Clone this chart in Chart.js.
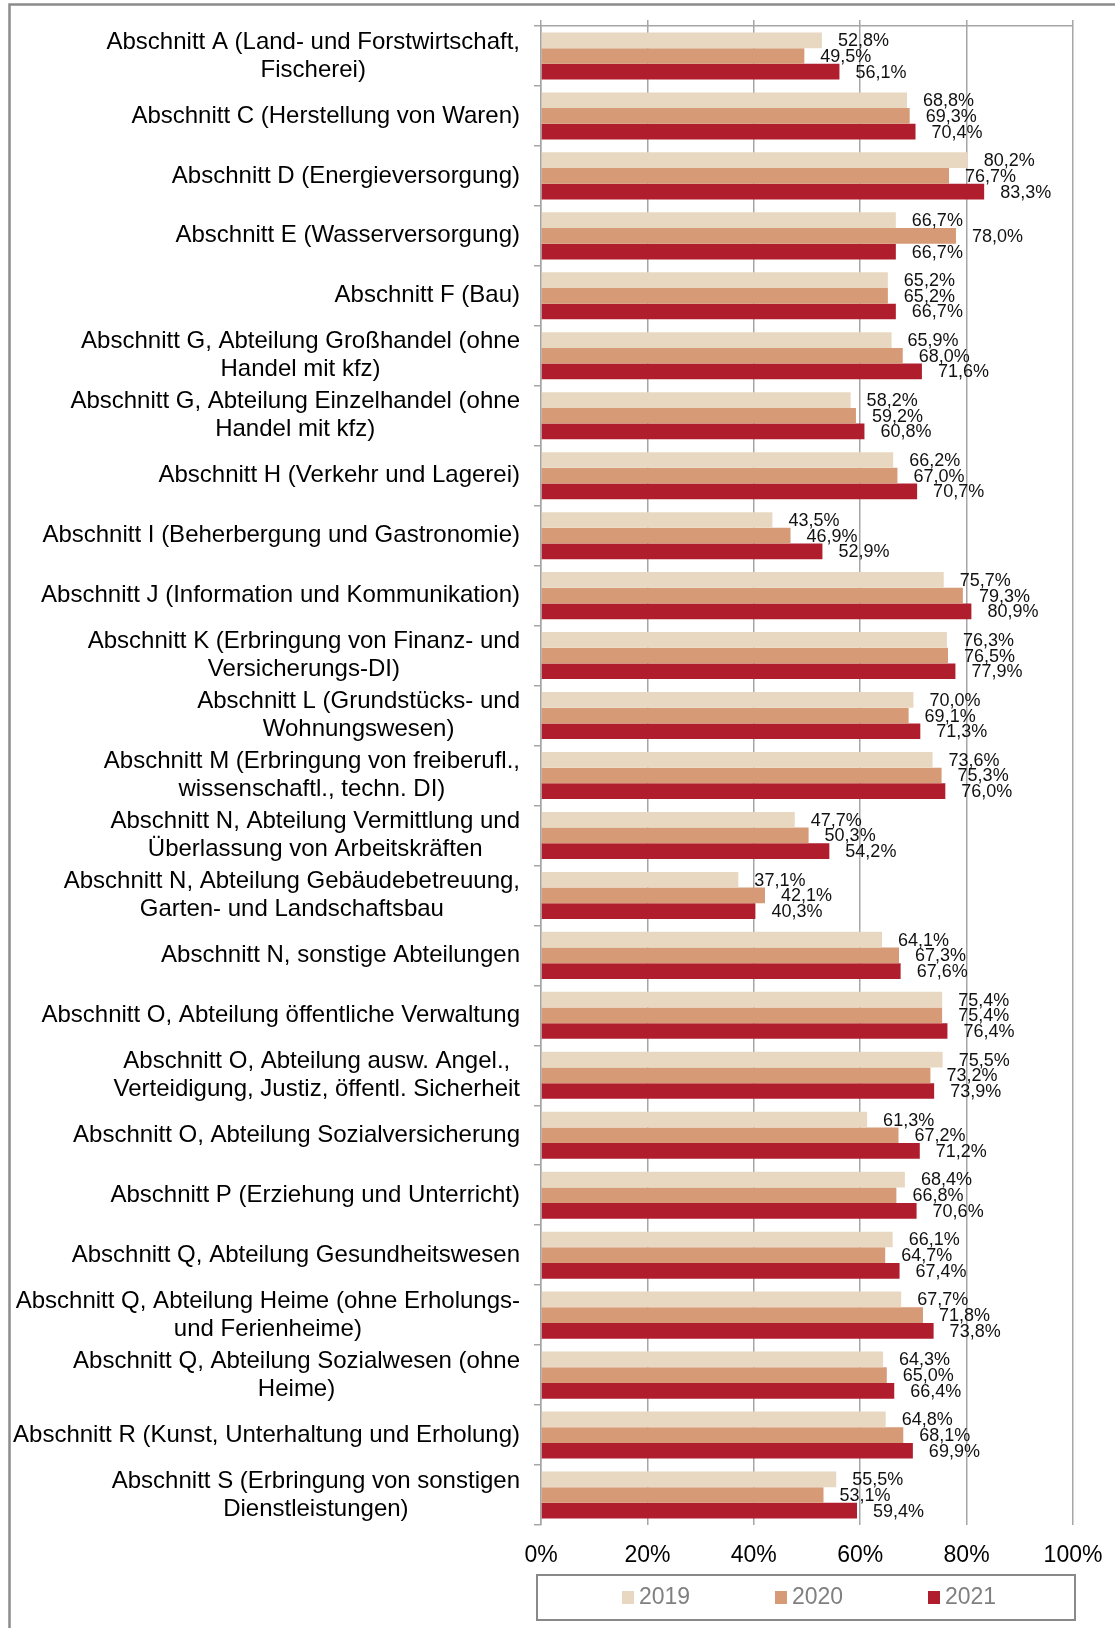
<!DOCTYPE html>
<html lang="de">
<head>
<meta charset="utf-8">
<title>Anteil nach Wirtschaftsabschnitten 2019–2021</title>
<script src="https://cdn.jsdelivr.net/npm/chart.js@4.4.1/dist/chart.umd.min.js"></script>
<style>
    html, body { margin: 0; padding: 0; background: #fff; }
    #wrap { width: 1115px; height: 1628px; }
</style>
</head>
<body>
<div id="wrap"><canvas id="chart" width="1115" height="1628"></canvas></div>
<script>
// Categories (multi-line labels as arrays)
const categories = [
    ['Abschnitt A (Land- und Forstwirtschaft,', 'Fischerei)'],
    'Abschnitt C (Herstellung von Waren)',
    'Abschnitt D (Energieversorgung)',
    'Abschnitt E (Wasserversorgung)',
    'Abschnitt F (Bau)',
    ['Abschnitt G, Abteilung Großhandel (ohne', 'Handel mit kfz)'],
    ['Abschnitt G, Abteilung Einzelhandel (ohne', 'Handel mit kfz)'],
    'Abschnitt H (Verkehr und Lagerei)',
    'Abschnitt I (Beherbergung und Gastronomie)',
    'Abschnitt J (Information und Kommunikation)',
    ['Abschnitt K (Erbringung von Finanz- und', 'Versicherungs-DI)'],
    ['Abschnitt L (Grundstücks- und', 'Wohnungswesen)'],
    ['Abschnitt M (Erbringung von freiberufl.,', 'wissenschaftl., techn. DI)'],
    ['Abschnitt N, Abteilung Vermittlung und', 'Überlassung von Arbeitskräften'],
    ['Abschnitt N, Abteilung Gebäudebetreuung,', 'Garten- und Landschaftsbau'],
    'Abschnitt N, sonstige Abteilungen',
    'Abschnitt O, Abteilung öffentliche Verwaltung',
    ['Abschnitt O, Abteilung ausw. Angel.,', 'Verteidigung, Justiz, öffentl. Sicherheit'],
    'Abschnitt O, Abteilung Sozialversicherung',
    'Abschnitt P (Erziehung und Unterricht)',
    'Abschnitt Q, Abteilung Gesundheitswesen',
    ['Abschnitt Q, Abteilung Heime (ohne Erholungs-', 'und Ferienheime)'],
    ['Abschnitt Q, Abteilung Sozialwesen (ohne', 'Heime)'],
    'Abschnitt R (Kunst, Unterhaltung und Erholung)',
    ['Abschnitt S (Erbringung von sonstigen', 'Dienstleistungen)']
];

const values2019 = [52.8, 68.8, 80.2, 66.7, 65.2, 65.9, 58.2, 66.2, 43.5, 75.7, 76.3, 70.0, 73.6,
                    47.7, 37.1, 64.1, 75.4, 75.5, 61.3, 68.4, 66.1, 67.7, 64.3, 64.8, 55.5];
const values2020 = [49.5, 69.3, 76.7, 78.0, 65.2, 68.0, 59.2, 67.0, 46.9, 79.3, 76.5, 69.1, 75.3,
                    50.3, 42.1, 67.3, 75.4, 73.2, 67.2, 66.8, 64.7, 71.8, 65.0, 68.1, 53.1];
const values2021 = [56.1, 70.4, 83.3, 66.7, 66.7, 71.6, 60.8, 70.7, 52.9, 80.9, 77.9, 71.3, 76.0,
                    54.2, 40.3, 67.6, 76.4, 73.9, 71.2, 70.6, 67.4, 73.8, 66.4, 69.9, 59.4];

const seriesNames = ['2019', '2020', '2021'];
const xTicks = [0, 20, 40, 60, 80, 100];

const FONT = '"Liberation Sans", Arial, sans-serif';
const GRID = '#a6a6a6';
const COLORS = ['#e8d8c1', '#d69a77', '#b01e2e'];

const fmt = v => v.toFixed(1).replace('.', ',') + '%';

// no automatic label overhang, the layout padding decides the plot edges
const noOverhang = s => { s.paddingLeft = 0; s.paddingRight = 0; };

// Frame, category labels, value labels and boxed legend
const decor = {
    id: 'decor',
    beforeDraw(chart) {
        const ctx = chart.ctx;
        ctx.save();
        ctx.fillStyle = '#fff';
        ctx.fillRect(0, 0, chart.width, chart.height);
        ctx.strokeStyle = '#8c8c8c';
        ctx.lineWidth = 2.5;
        ctx.strokeRect(9.5, 4.5, 1300, 1800);
        ctx.restore();
    },
    afterDatasetsDraw(chart) {
        const ctx = chart.ctx;
        ctx.save();
        ctx.font = '18px ' + FONT;
        ctx.fillStyle = '#111';
        ctx.textAlign = 'left';
        ctx.textBaseline = 'middle';
        chart.data.datasets.forEach((ds, di) => {
            chart.getDatasetMeta(di).data.forEach((bar, i) => {
                ctx.fillText(fmt(ds.data[i]), bar.x + 16, bar.y + 1);
            });
        });
        ctx.restore();
    },
    afterDraw(chart) {
        const ctx = chart.ctx;
        const yScale = chart.scales.y;
        ctx.save();

        // category labels: block right-aligned, lines centred inside the block
        ctx.font = '24px ' + FONT;
        ctx.fillStyle = '#000';
        ctx.textAlign = 'center';
        ctx.textBaseline = 'middle';
        chart.data.labels.forEach((lab, i) => {
            const lines = Array.isArray(lab) ? lab : [lab];
            const w = Math.max(...lines.map(l => ctx.measureText(l).width));
            const cx = 520 - w / 2;
            const cy = yScale.getPixelForValue(i);
            lines.forEach((l, k) => {
                ctx.fillText(l, cx, cy + (k - (lines.length - 1) / 2) * 28);
            });
        });

        // legend box
        ctx.strokeStyle = '#898989';
        ctx.lineWidth = 2;
        ctx.strokeRect(537, 1575, 538, 45);
        ctx.font = '23px ' + FONT;
        ctx.textAlign = 'left';
        const itemX = [622, 775, 928];
        chart.data.datasets.forEach((ds, di) => {
            ctx.fillStyle = ds.backgroundColor;
            ctx.fillRect(itemX[di], 1591, 12, 13);
            ctx.fillStyle = '#808080';
            ctx.fillText(ds.label, itemX[di] + 17, 1598);
        });
        ctx.restore();
    }
};

new Chart(document.getElementById('chart'), {
    type: 'bar',
    data: {
        labels: categories,
        datasets: [
            { label: seriesNames[0], data: values2019, backgroundColor: COLORS[0] },
            { label: seriesNames[1], data: values2020, backgroundColor: COLORS[1] },
            { label: seriesNames[2], data: values2021, backgroundColor: COLORS[2] }
        ]
    },
    options: {
        indexAxis: 'y',
        responsive: false,
        animation: false,
        devicePixelRatio: 1,
        categoryPercentage: 0.785,
        barPercentage: 1.0,
        layout: { padding: { top: 20, right: 42, left: 0, bottom: 0 } },
        plugins: {
            legend: { display: false },
            tooltip: { enabled: false }
        },
        scales: {
            x: {
                type: 'linear',
                position: 'bottom',
                min: 0,
                max: 100,
                afterBuildTicks: s => { s.ticks = xTicks.map(v => ({ value: v })); },
                afterFit: s => { s.height = 103; noOverhang(s); },
                grid: { color: GRID, lineWidth: 1.5, drawTicks: false },
                border: { display: false },
                ticks: {
                    padding: 17,
                    color: '#000',
                    font: { family: FONT, size: 23 },
                    callback: v => v + '%'
                }
            },
            xTop: {
                type: 'linear',
                position: 'top',
                axis: 'x',
                min: 0,
                max: 100,
                afterBuildTicks: s => { s.ticks = xTicks.map(v => ({ value: v })); },
                afterFit: s => { s.height = 6; noOverhang(s); },
                grid: { color: GRID, lineWidth: 1.5, drawOnChartArea: false, tickLength: 6 },
                border: { color: GRID, width: 1.5 },
                ticks: { display: false }
            },
            y: {
                afterFit: s => { s.width = 541; },
                grid: { color: GRID, lineWidth: 1.5, drawOnChartArea: false, tickLength: 7, offset: true },
                border: { color: GRID, width: 1.5 },
                ticks: { display: false }
            }
        }
    },
    plugins: [decor]
});
</script>
</body>
</html>
